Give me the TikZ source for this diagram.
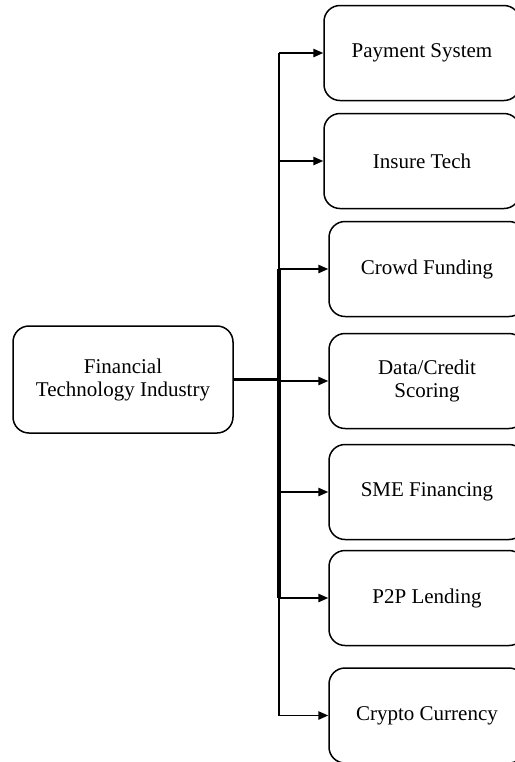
\documentclass[tikz,border=0pt]{standalone}
\usepackage{fontspec}
\setmainfont{Liberation Serif}
\usetikzlibrary{arrows.meta}
\begin{document}
\begin{tikzpicture}[x=0.5pt,y=-0.5pt,
  box/.style={draw,line width=0.75pt,rounded corners=8pt,align=center,inner sep=0pt,
    font=\fontsize{10.5}{11.5}\selectfont},
  leftbox/.style={box,minimum width=110pt,minimum height=53.5pt},
  rbox/.style={box,minimum width=98pt,minimum height=47.5pt},
  thin/.style={line width=0.75pt},
  thick/.style={line width=1.6pt},
  arr/.style={thin,-{Triangle[length=5pt,width=4.2pt]}}
]
\useasboundingbox (0,0) rectangle (515,762);
\node[leftbox] (fti) at (123,379.5) {Financial\\Technology Industry};
\node[rbox] (pay) at (422,53) {Payment System};
\node[rbox] (ins) at (422,161) {Insure Tech};
\node[rbox] (crowd) at (427,269) {Crowd Funding};
\node[rbox] (data) at (427,381) {Data/Credit\\Scoring};
\node[rbox] (sme) at (427,492) {SME Financing};
\node[rbox] (p2p) at (427,598) {P2P Lending};
\node[rbox] (crypto) at (427,715.5) {Crypto Currency};
\coordinate (top) at (279,53);
\coordinate (bot) at (279,715.5);
\coordinate (jt) at (279,269);
\coordinate (jb) at (279,598);
\coordinate (hub) at (279,379.5);
\draw[thin] (top) -- (bot);
\draw[thick] (jt) -- (jb);
\draw[thick] (fti.east) -- (hub);
\foreach \n in {pay,ins,crowd,data,sme,p2p,crypto}
  \draw[arr] (top |- \n.west) -- (\n.west);
\end{tikzpicture}
\end{document}
